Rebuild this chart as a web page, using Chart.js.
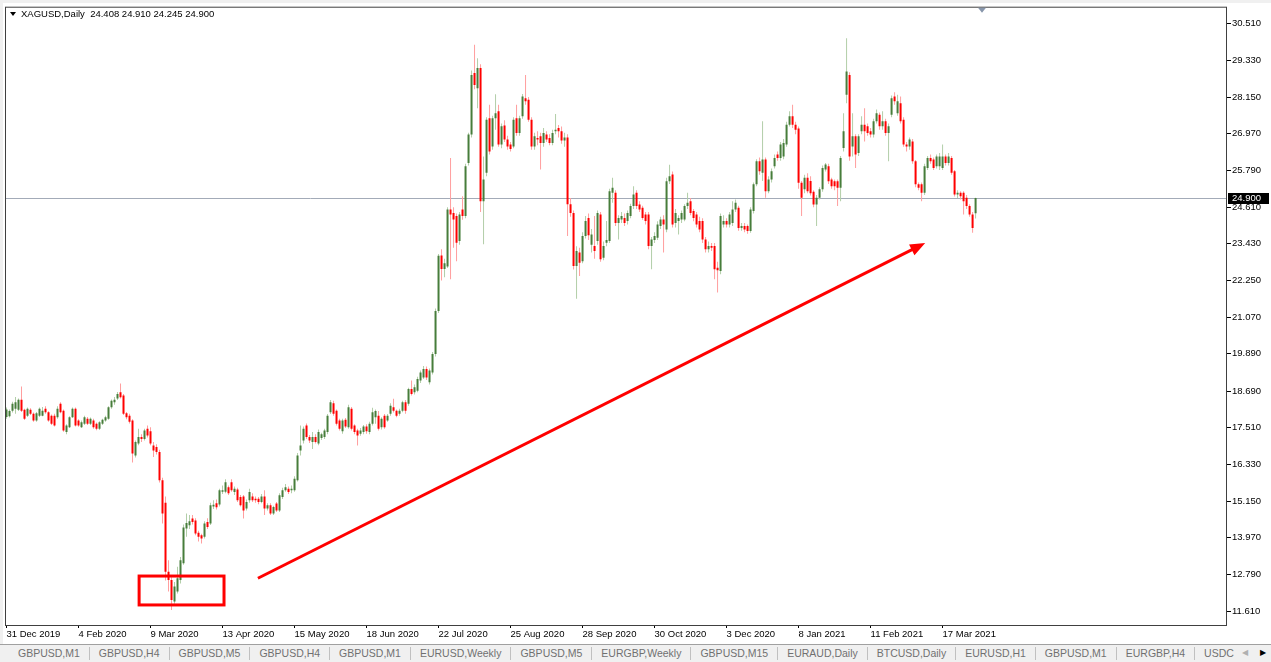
<!DOCTYPE html>
<html>
<head>
<meta charset="utf-8">
<script src="https://cdn.jsdelivr.net/npm/chart.js@4.4.1/dist/chart.umd.min.js"></script>
<style>
  html, body { margin: 0; padding: 0; background: #fff; overflow: hidden; }
  #tabs { position: relative; display: flex; align-items: center; width: 1271px; height: 18px; box-sizing: border-box;
          padding-left: 9px; background: #f0f0f0; border-top: 1px solid #a0a0a0; white-space: nowrap; overflow: hidden;
          font: 10.5px "Liberation Sans", Arial, sans-serif; color: #707070; }
  .tab { padding: 0 9px; border-right: 1px solid #c0c0c0; line-height: 13px; }
  .arr { position: absolute; top: 3px; font-size: 8px; }
</style>
</head>
<body>
<canvas id="chart" width="1271" height="644"></canvas>
<div id="tabs"></div>
<script>
// XAGUSD daily, 31 Dec 2019 .. 1 Apr 2021 (one entry per bar)
const opens = [
  17.86, 17.88, 18.06, 18.12, 18.09, 18.41, 18.09, 17.90, 18.09, 17.96,
  17.74, 17.90, 17.90, 18.12, 18.01, 17.90, 17.90, 17.85, 18.28, 18.06,
  17.37, 17.53, 17.85, 18.12, 17.74, 17.53, 17.64, 17.80, 17.64, 17.74,
  17.64, 17.48, 17.64, 17.74, 17.80, 18.17, 18.33, 18.45, 18.65, 18.55,
  17.98, 17.90, 17.74, 16.62, 17.00, 17.21, 17.15, 17.48, 17.40, 16.94,
  16.89, 16.73, 15.82, 15.10, 12.88, 12.61, 11.92, 12.24, 12.61, 13.15,
  14.27, 14.37, 14.59, 14.53, 14.13, 14.05, 14.00, 14.48, 14.43, 14.98,
  15.08, 15.04, 15.45, 15.45, 15.60, 15.76, 15.44, 15.52, 15.28, 15.30,
  14.91, 15.18, 15.30, 15.23, 15.23, 15.12, 15.30, 14.91, 15.02, 14.75,
  15.07, 14.85, 15.28, 15.50, 15.55, 15.50, 15.50, 15.82, 16.78, 17.10,
  17.58, 17.21, 17.05, 17.21, 17.00, 17.18, 17.21, 17.37, 18.01, 18.30,
  18.06, 17.74, 17.40, 17.77, 17.53, 18.12, 17.58, 17.42, 17.32, 17.37,
  17.55, 17.37, 17.64, 17.85, 17.90, 17.53, 17.90, 17.74, 17.96, 18.17,
  18.06, 17.96, 18.06, 18.33, 18.28, 18.76, 18.65, 18.70, 19.03, 19.13,
  19.40, 18.97, 19.29, 19.88, 21.27, 23.05, 22.62, 22.70, 24.53, 24.42,
  24.32, 23.52, 24.53, 24.32, 26.03, 26.94, 28.92, 28.43, 29.08, 24.80,
  25.71, 27.47, 26.56, 27.47, 27.69, 26.62, 27.23, 26.78, 26.62, 26.56,
  27.47, 26.99, 27.53, 28.11, 28.06, 27.42, 26.56, 26.83, 26.89, 26.67,
  26.94, 26.83, 26.67, 27.05, 27.15, 27.05, 26.75, 26.85, 24.70, 24.42,
  22.71, 23.15, 22.87, 23.68, 24.26, 23.40, 23.36, 23.52, 24.37, 22.98,
  23.46, 23.52, 25.07, 25.07, 24.10, 24.21, 24.26, 24.16, 24.32, 24.64,
  25.07, 24.69, 24.59, 24.37, 24.37, 23.36, 23.55, 23.62, 24.00, 24.21,
  23.89, 25.44, 25.66, 24.10, 24.16, 24.21, 24.21, 24.64, 24.80, 24.48,
  24.37, 24.16, 24.16, 23.57, 23.25, 23.36, 23.36, 22.66, 22.55, 24.05,
  24.16, 24.05, 24.10, 24.53, 24.59, 23.94, 24.00, 24.00, 23.84, 24.48,
  25.34, 26.08, 25.71, 26.14, 25.12, 25.50, 25.92, 26.30, 26.19, 26.24,
  26.62, 27.26, 27.53, 27.26, 27.14, 25.39, 25.18, 25.55, 25.45, 25.10,
  24.69, 24.91, 25.18, 25.82, 25.92, 25.50, 25.44, 25.44, 25.23, 26.51,
  28.22, 28.86, 26.56, 26.89, 26.35, 27.05, 27.26, 27.21, 27.05, 26.94,
  27.37, 27.58, 27.21, 27.37, 26.99, 27.58, 28.17, 27.63, 27.95, 27.42,
  26.62, 26.56, 26.72, 26.08, 25.34, 25.34, 25.07, 25.87, 26.19, 26.14,
  25.92, 25.92, 25.87, 26.24, 26.03, 26.19, 25.76, 25.01, 25.07, 25.07,
  24.91, 24.64, 24.37, 24.408
];
const highs = [
  18.16, 18.10, 18.35, 18.50, 18.45, 18.84, 18.12, 18.16, 18.14, 18.00,
  18.02, 18.16, 18.18, 18.20, 18.04, 17.94, 17.96, 18.20, 18.33, 18.10,
  17.62, 17.88, 18.16, 18.16, 17.78, 17.74, 17.90, 17.86, 17.84, 17.80,
  17.68, 17.72, 17.80, 17.90, 18.20, 18.42, 18.50, 18.66, 18.93, 18.60,
  18.02, 17.96, 17.78, 17.10, 17.48, 17.30, 17.48, 17.58, 17.53, 17.05,
  16.98, 16.80, 15.90, 15.30, 13.25, 12.70, 12.55, 13.04, 13.35, 14.40,
  14.75, 14.70, 14.70, 14.60, 14.20, 14.10, 14.50, 14.60, 15.10, 15.18,
  15.20, 15.55, 15.65, 15.85, 15.65, 15.85, 15.62, 15.58, 15.35, 15.35,
  15.20, 15.55, 15.40, 15.30, 15.28, 15.38, 15.50, 15.08, 15.08, 15.00,
  15.12, 15.40, 15.58, 15.70, 15.62, 15.65, 15.95, 16.70, 17.58, 17.55,
  17.65, 17.28, 17.37, 17.30, 17.45, 17.35, 17.48, 17.95, 18.40, 18.38,
  18.10, 17.80, 17.80, 17.82, 18.25, 18.18, 17.62, 17.48, 17.50, 17.60,
  17.62, 17.70, 18.15, 18.10, 18.05, 17.85, 17.95, 17.95, 18.30, 18.44,
  18.10, 18.12, 18.38, 18.40, 18.80, 19.03, 18.90, 19.15, 19.35, 19.50,
  19.48, 19.42, 19.95, 21.35, 23.10, 23.25, 22.95, 24.60, 26.19, 24.60,
  24.40, 24.45, 24.96, 26.00, 27.00, 29.00, 29.83, 29.40, 29.20, 26.24,
  27.50, 27.90, 27.55, 28.24, 27.90, 27.30, 27.40, 26.90, 26.70, 27.50,
  27.90, 27.55, 28.25, 28.86, 28.15, 27.50, 27.00, 27.05, 27.00, 27.15,
  27.05, 26.95, 27.10, 27.60, 27.25, 27.20, 27.00, 26.95, 24.90, 24.50,
  23.35, 23.30, 23.80, 24.32, 24.40, 23.90, 24.32, 24.50, 24.45, 23.50,
  24.16, 25.20, 25.55, 25.15, 24.35, 24.45, 24.40, 24.50, 24.72, 25.28,
  25.15, 24.80, 24.65, 24.45, 24.45, 23.65, 23.80, 24.15, 24.30, 24.35,
  25.55, 25.97, 25.75, 24.55, 24.35, 24.50, 24.70, 25.07, 24.90, 24.55,
  24.45, 24.30, 24.25, 23.65, 23.50, 23.45, 23.45, 22.85, 24.40, 24.35,
  24.25, 24.45, 24.80, 24.85, 24.65, 24.10, 24.10, 24.05, 24.60, 25.40,
  26.15, 26.20, 27.37, 26.20, 25.60, 25.85, 26.30, 26.40, 26.70, 26.80,
  27.35, 27.69, 27.90, 27.35, 27.20, 25.45, 25.65, 25.70, 25.60, 25.15,
  25.00, 25.25, 25.95, 26.03, 26.00, 25.55, 25.50, 25.50, 26.25, 27.63,
  30.04, 28.95, 27.63, 26.95, 26.95, 27.53, 27.79, 27.30, 27.15, 27.45,
  27.75, 27.65, 27.69, 27.45, 27.30, 28.20, 28.30, 28.22, 28.17, 27.50,
  26.70, 26.85, 26.80, 26.12, 25.40, 25.40, 26.00, 26.25, 26.30, 26.20,
  26.30, 26.35, 26.62, 26.30, 26.35, 26.25, 25.80, 25.15, 25.12, 25.12,
  25.00, 24.70, 24.45, 24.910
];
const lows = [
  17.80, 17.84, 18.00, 17.96, 18.05, 18.02, 17.76, 17.86, 17.92, 17.70,
  17.70, 17.86, 17.88, 17.96, 17.70, 17.60, 17.55, 17.80, 17.98, 17.38,
  17.30, 17.50, 17.82, 17.55, 17.54, 17.50, 17.60, 17.60, 17.60, 17.48,
  17.43, 17.44, 17.60, 17.70, 17.77, 18.12, 18.25, 18.40, 18.45, 17.92,
  17.78, 17.65, 16.39, 16.55, 16.95, 17.05, 17.10, 17.20, 16.95, 16.57,
  16.65, 15.75, 14.43, 12.60, 12.24, 11.65, 11.85, 12.18, 12.50, 13.10,
  14.00, 14.25, 14.40, 14.05, 13.85, 13.79, 13.95, 14.25, 14.38, 14.90,
  14.88, 14.98, 15.38, 15.40, 15.35, 15.45, 15.35, 15.12, 14.98, 14.59,
  14.85, 15.10, 15.12, 15.10, 15.05, 15.08, 14.70, 14.85, 14.70, 14.70,
  14.80, 14.80, 15.22, 15.45, 15.38, 15.40, 15.45, 15.78, 16.62, 17.00,
  17.15, 17.02, 16.83, 17.00, 16.95, 17.12, 17.15, 17.30, 17.95, 17.90,
  17.58, 17.42, 17.32, 17.50, 17.48, 17.42, 17.30, 16.94, 17.25, 17.30,
  17.32, 17.30, 17.58, 17.64, 17.42, 17.45, 17.48, 17.70, 17.90, 18.00,
  17.85, 17.90, 18.01, 17.96, 18.22, 18.55, 18.58, 18.65, 18.95, 19.08,
  19.05, 18.90, 19.22, 19.80, 21.20, 22.25, 22.35, 22.65, 22.29, 23.30,
  22.87, 23.40, 24.20, 24.25, 25.95, 26.85, 28.40, 27.79, 24.45, 23.41,
  25.60, 26.30, 26.45, 27.10, 26.55, 26.50, 26.70, 26.45, 26.40, 26.50,
  26.90, 26.90, 27.45, 27.90, 27.35, 26.45, 26.45, 26.60, 25.82, 26.55,
  26.70, 26.60, 26.60, 26.95, 26.85, 26.65, 26.55, 23.68, 24.30, 22.60,
  21.66, 22.39, 22.80, 23.60, 23.55, 23.15, 22.95, 23.40, 22.85, 22.90,
  23.35, 23.45, 24.75, 24.00, 23.57, 24.10, 24.00, 24.05, 24.25, 24.55,
  24.55, 24.45, 24.20, 24.05, 23.25, 22.61, 23.45, 23.55, 23.90, 23.15,
  23.80, 25.35, 23.95, 23.95, 23.73, 24.10, 24.15, 24.55, 24.35, 24.15,
  23.95, 23.80, 23.45, 23.15, 23.15, 23.20, 22.29, 21.86, 22.45, 23.95,
  23.95, 23.95, 24.00, 24.45, 23.85, 23.85, 23.80, 23.75, 23.78, 24.40,
  25.28, 25.65, 25.45, 24.91, 25.05, 25.40, 25.85, 26.10, 26.10, 26.15,
  26.55, 27.20, 27.15, 26.95, 25.20, 24.32, 25.05, 25.05, 24.98, 24.60,
  24.00, 24.85, 25.10, 25.75, 25.35, 25.20, 25.15, 24.64, 24.80, 26.40,
  27.95, 26.10, 26.24, 25.87, 26.25, 26.95, 26.72, 26.90, 26.85, 26.85,
  27.30, 27.10, 27.10, 26.90, 26.08, 27.50, 27.90, 27.55, 27.30, 26.55,
  26.40, 26.45, 26.00, 25.25, 25.15, 24.80, 25.00, 25.80, 26.00, 25.80,
  25.85, 25.80, 25.80, 25.95, 25.95, 25.65, 24.95, 24.90, 24.85, 24.37,
  24.55, 24.30, 23.78, 24.245
];
const closes = [
  18.10, 18.05, 18.28, 18.33, 18.41, 18.06, 17.80, 18.12, 17.96, 17.74,
  17.98, 18.12, 18.06, 18.01, 17.74, 17.64, 17.58, 18.12, 18.01, 17.42,
  17.58, 17.85, 18.12, 17.58, 17.58, 17.69, 17.85, 17.64, 17.80, 17.53,
  17.48, 17.69, 17.77, 17.85, 18.17, 18.38, 18.41, 18.60, 18.49, 17.96,
  17.85, 17.70, 16.68, 17.05, 17.21, 17.15, 17.42, 17.26, 17.00, 16.78,
  16.73, 15.82, 14.75, 12.88, 12.61, 11.97, 12.40, 12.67, 13.25, 14.30,
  14.45, 14.50, 14.48, 14.11, 14.00, 13.95, 14.43, 14.32, 15.02, 15.03,
  14.95, 15.50, 15.50, 15.76, 15.40, 15.50, 15.55, 15.18, 15.02, 14.85,
  15.12, 15.44, 15.18, 15.18, 15.12, 15.30, 14.91, 15.02, 14.75, 14.96,
  14.85, 15.34, 15.50, 15.60, 15.44, 15.55, 15.87, 16.62, 16.94, 17.48,
  17.21, 17.10, 17.21, 17.05, 17.37, 17.30, 17.42, 17.90, 18.33, 17.96,
  17.64, 17.48, 17.74, 17.55, 18.17, 17.48, 17.37, 17.26, 17.42, 17.55,
  17.40, 17.64, 18.01, 18.05, 17.48, 17.80, 17.53, 17.90, 18.22, 18.06,
  17.90, 18.06, 18.33, 18.06, 18.76, 18.60, 18.81, 19.08, 19.29, 19.40,
  19.13, 19.35, 19.88, 21.27, 23.04, 22.62, 22.80, 24.53, 24.37, 24.21,
  23.46, 24.37, 24.32, 25.92, 26.94, 28.86, 28.54, 29.08, 24.80, 25.50,
  27.42, 26.40, 27.47, 27.63, 26.62, 27.21, 26.78, 26.56, 26.48, 27.42,
  26.99, 27.47, 28.17, 28.01, 27.42, 26.56, 26.89, 26.78, 26.67, 26.99,
  26.78, 26.67, 26.99, 27.10, 27.05, 26.75, 26.85, 24.70, 24.42, 22.71,
  23.20, 22.82, 23.68, 24.16, 23.70, 23.73, 23.20, 24.42, 22.93, 23.36,
  23.55, 25.12, 25.23, 24.10, 24.26, 24.32, 24.10, 24.42, 24.64, 25.01,
  24.64, 24.53, 24.26, 24.16, 23.36, 23.57, 23.68, 24.05, 24.21, 24.05,
  25.44, 25.60, 24.05, 24.42, 24.26, 24.42, 24.64, 24.75, 24.42, 24.26,
  24.05, 23.89, 23.57, 23.25, 23.36, 23.30, 22.61, 22.58, 24.32, 24.16,
  24.05, 24.37, 24.53, 24.75, 23.94, 24.00, 23.89, 23.84, 24.53, 25.34,
  26.08, 25.76, 26.14, 25.12, 25.50, 25.76, 26.19, 26.19, 26.62, 26.67,
  27.26, 27.53, 27.26, 27.10, 25.39, 24.91, 25.55, 25.12, 25.05, 24.69,
  24.91, 25.18, 25.87, 25.98, 25.44, 25.28, 25.28, 25.23, 26.19, 27.05,
  28.97, 26.24, 26.89, 26.30, 26.89, 27.26, 27.05, 26.99, 26.94, 27.37,
  27.63, 27.21, 27.37, 26.99, 27.21, 28.11, 28.01, 28.01, 27.37, 26.62,
  26.56, 26.78, 26.08, 25.34, 25.23, 25.07, 25.92, 26.19, 26.08, 25.87,
  26.24, 26.24, 26.24, 26.03, 26.24, 25.71, 25.01, 25.07, 24.96, 24.80,
  24.64, 24.37, 23.94, 24.900
];

// time axis labels (bar index of each label) and price scale
const dateIdx = [0, 24, 48, 72, 96, 120, 144, 168, 192, 216, 240, 264, 288, 312];
const dateLabels = ['31 Dec 2019', '4 Feb 2020', '9 Mar 2020', '13 Apr 2020', '15 May 2020', '18 Jun 2020',
  '22 Jul 2020', '25 Aug 2020', '28 Sep 2020', '30 Oct 2020', '3 Dec 2020', '8 Jan 2021', '11 Feb 2021', '17 Mar 2021'];
const priceTicks = [30.51, 29.33, 28.15, 26.97, 25.79, 24.61, 23.43, 22.25, 21.07, 19.89, 18.69, 17.51, 16.33, 15.15, 13.97, 12.79, 11.61];
const priceLabels = ['30.510', '29.330', '28.150', '26.970', '25.790', '24.610', '23.430', '22.250', '21.070',
  '19.890', '18.690', '17.510', '16.330', '15.150', '13.970', '12.790', '11.610'];

// hand-drawn marks, in bar index / price units
const boxMark = { from: 44.2, to: 72.5, top: 12.74, bottom: 11.81 };
const arrowMark = { fromX: 83.8, fromY: 12.67, toX: 306.2, toY: 23.45 };
const shiftBar = 325.2;

const tabNames = ['GBPUSD,M1', 'GBPUSD,H4', 'GBPUSD,M5', 'GBPUSD,H4', 'GBPUSD,M1', 'EURUSD,Weekly', 'GBPUSD,M5',
  'EURGBP,Weekly', 'GBPUSD,M15', 'EURAUD,Daily', 'BTCUSD,Daily', 'EURUSD,H1', 'GBPUSD,M1', 'EURGBP,H4', 'USDC'];

const tabs = document.getElementById('tabs');
tabNames.forEach(function(t) {
  const s = document.createElement('span');
  s.className = 'tab';
  s.textContent = t;
  tabs.appendChild(s);
});
tabs.lastChild.style.borderRight = 'none';
const a1 = document.createElement('span'); a1.className = 'arr'; a1.style.left = '1242px'; a1.style.color = '#b0b0b0'; a1.textContent = '\u25C0';
const a2 = document.createElement('span'); a2.className = 'arr'; a2.style.left = '1260px'; a2.style.color = '#000'; a2.textContent = '\u25B6';
tabs.appendChild(a1); tabs.appendChild(a2);

const FONT = '"Liberation Sans", Arial, sans-serif';
Chart.defaults.font.family = FONT;

const upBody = '#477d3b', downBody = '#ff0000';
const upWick = '#b2cea8', downWick = '#ff9e9e';
const isUp = closes.map((c, i) => c >= opens[i]);
const last = closes.length - 1;

const mt4 = {
  id: 'mt4',
  beforeDraw(chart) {
    const ctx = chart.ctx;
    ctx.save();
    ctx.fillStyle = '#fff';
    ctx.fillRect(0, 0, chart.width, chart.height);
    ctx.fillStyle = '#f0f0f0';
    ctx.fillRect(0, 0, chart.width, 3);
    ctx.fillRect(0, 0, 3, chart.height);
    ctx.restore();
  },
  beforeDatasetsDraw(chart) {
    const { ctx, chartArea: a, scales: { y } } = chart;
    const py = Math.round(y.getPixelForValue(closes[last])) + 0.5;
    ctx.save();
    ctx.strokeStyle = '#a3abb8';
    ctx.lineWidth = 1;
    ctx.beginPath(); ctx.moveTo(a.left, py); ctx.lineTo(a.right, py); ctx.stroke();
    ctx.restore();
  },
  afterDraw(chart) {
    const { ctx, chartArea: a, scales: { x, y } } = chart;
    ctx.save();

    // frame
    ctx.strokeStyle = '#404040';
    ctx.lineWidth = 1;
    ctx.strokeRect(a.left + 0.5, a.top + 0.5, a.right - a.left - 1, a.bottom - a.top);

    // red box around the low
    ctx.strokeStyle = '#ff0000';
    ctx.lineWidth = 3;
    const bx0 = x.getPixelForValue(boxMark.from), bx1 = x.getPixelForValue(boxMark.to);
    const by0 = y.getPixelForValue(boxMark.top), by1 = y.getPixelForValue(boxMark.bottom);
    ctx.strokeRect(bx0, by0, bx1 - bx0, by1 - by0);

    // red arrow
    const ax0 = x.getPixelForValue(arrowMark.fromX), ay0 = y.getPixelForValue(arrowMark.fromY);
    const ax1 = x.getPixelForValue(arrowMark.toX), ay1 = y.getPixelForValue(arrowMark.toY);
    const ang = Math.atan2(ay1 - ay0, ax1 - ax0);
    const headLen = 15, headW = 6;
    ctx.beginPath();
    ctx.moveTo(ax0, ay0);
    ctx.lineTo(ax1 - Math.cos(ang) * (headLen - 2), ay1 - Math.sin(ang) * (headLen - 2));
    ctx.stroke();
    ctx.fillStyle = '#ff0000';
    ctx.beginPath();
    ctx.moveTo(ax1, ay1);
    ctx.lineTo(ax1 - Math.cos(ang) * headLen + Math.sin(ang) * headW, ay1 - Math.sin(ang) * headLen - Math.cos(ang) * headW);
    ctx.lineTo(ax1 - Math.cos(ang) * headLen - Math.sin(ang) * headW, ay1 - Math.sin(ang) * headLen + Math.cos(ang) * headW);
    ctx.closePath();
    ctx.fill();

    // chart shift marker
    const sx = Math.round(x.getPixelForValue(shiftBar));
    ctx.fillStyle = '#8796ab';
    ctx.beginPath();
    ctx.moveTo(sx - 4, a.top + 1); ctx.lineTo(sx + 4, a.top + 1); ctx.lineTo(sx, a.top + 6);
    ctx.closePath(); ctx.fill();

    // title
    ctx.fillStyle = '#000';
    ctx.beginPath();
    ctx.moveTo(10, 12); ctx.lineTo(16, 12); ctx.lineTo(13, 16);
    ctx.closePath(); ctx.fill();
    ctx.font = '9.5px ' + FONT;
    ctx.textBaseline = 'middle';
    ctx.textAlign = 'left';
    const ohlc = [opens[last], highs[last], lows[last], closes[last]].map(v => v.toFixed(3)).join(' ');
    ctx.fillText('XAGUSD,Daily  ' + ohlc, 21, 14.5);

    // last price label on the axis
    const py = Math.round(y.getPixelForValue(closes[last]));
    ctx.fillStyle = '#000';
    ctx.fillRect(a.right + 1, py - 5, 41, 11);
    ctx.fillStyle = '#fff';
    ctx.fillText(closes[last].toFixed(3), a.right + 5, py + 0.5);
    ctx.restore();
  }
};

new Chart(document.getElementById('chart'), {
  type: 'bar',
  data: {
    datasets: [{
      label: 'Range',
      data: closes.map((c, i) => ({ x: i, y: [lows[i], highs[i]] })),
      backgroundColor: isUp.map(u => u ? upWick : downWick),
      barThickness: 1,
      inflateAmount: 0,
      grouped: false,
      order: 2
    }, {
      label: 'Body',
      data: closes.map((c, i) => ({ x: i, y: [Math.min(opens[i], c), Math.max(opens[i], c)] })),
      backgroundColor: isUp.map(u => u ? upBody : downBody),
      barThickness: 2,
      minBarLength: 1,
      inflateAmount: 0,
      grouped: false,
      order: 1
    }]
  },
  options: {
    responsive: false,
    animation: false,
    layout: { padding: { left: 5, top: 5, right: 0, bottom: 0 } },
    plugins: { legend: { display: false }, tooltip: { enabled: false } },
    scales: {
      x: {
        type: 'linear',
        min: -0.5,
        max: 406.8,
        offset: false,
        afterBuildTicks: s => { s.ticks = dateIdx.map(v => ({ value: v })); },
        afterFit: s => { s.height = 19; },
        grid: { drawOnChartArea: false, drawTicks: true, tickLength: 3, tickColor: '#000', offset: false },
        border: { display: false },
        ticks: {
          autoSkip: false, maxRotation: 0, align: 'start', padding: 1, color: '#000',
          font: { size: 9.5 },
          callback: (v, i) => dateLabels[i]
        }
      },
      y: {
        type: 'linear',
        position: 'right',
        min: 11.165,
        max: 31.055,
        bounds: 'data',
        beginAtZero: false,
        afterBuildTicks: s => { s.ticks = priceTicks.map(v => ({ value: v })); },
        afterFit: s => { s.width = 44; },
        grid: { drawOnChartArea: false, drawTicks: true, tickLength: 4, tickColor: '#000' },
        border: { display: false },
        ticks: {
          autoSkip: false, padding: 1, color: '#000',
          font: { size: 9.5 },
          callback: (v, i) => priceLabels[i]
        }
      }
    }
  },
  plugins: [mt4]
});
</script>
</body>
</html>
